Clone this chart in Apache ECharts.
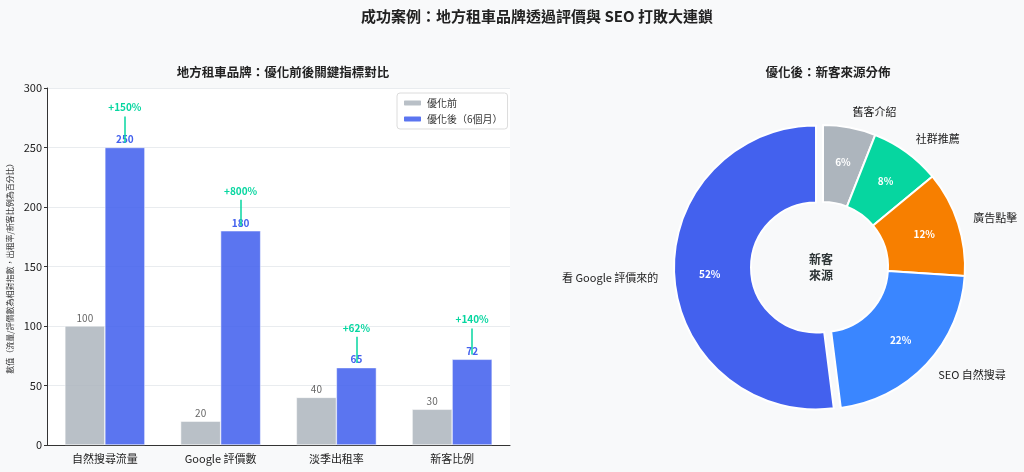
<!DOCTYPE html>
<html><head><meta charset="utf-8">
<script src="https://cdn.jsdelivr.net/npm/echarts@6/dist/echarts.min.js"></script>
<style>html,body{margin:0;padding:0;background:#f8f9fa}#c{width:1024px;height:472px}</style>
</head><body><div id="c"></div>
<script>
const categories = ['自然搜尋流量', 'Google 評價數', '淡季出租率', '新客比例'];
const beforeValues = [100, 20, 40, 30];
const afterValues = [250, 180, 65, 72];
const growthLabels = ['+150%', '+800%', '+62%', '+140%'];
const yTicks = [0, 50, 100, 150, 200, 250, 300];
const pieNames = ['舊客介紹', '社群推薦', '廣告點擊', 'SEO 自然搜尋', '看 Google 評價來的'];
const pieValues = [6, 8, 12, 22, 52];
const pieColors = ['#adb5bd', '#06d6a0', '#f77f00', '#3a86ff', '#4361ee'];
const explodedName = '看 Google 評價來的';

const FONT = '"Noto Sans CJK TC", "Noto Sans", sans-serif';
const chart = echarts.init(document.getElementById('c'), null, {renderer: 'canvas'});

const arrowData = categories.map((c, i) => [
  {coord: [c, afterValues[i] + 26], label: {formatter: growthLabels[i]}},
  {coord: [c, afterValues[i] + 4]}
]);

const pieData = pieNames.map((n, i) => ({
  name: n, value: pieValues[i], selected: n === explodedName,
  itemStyle: {color: pieColors[i]}
}));
const pieDataOuter = pieNames.map((n, i) => ({
  name: n, value: pieValues[i], selected: n === explodedName
}));

chart.setOption({
  backgroundColor: '#f8f9fa',
  textStyle: {fontFamily: FONT},
  title: [
    {text: '成功案例：地方租車品牌透過評價與 SEO 打敗大連鎖', left: 532, top: 4, textAlign: 'center',
     textStyle: {fontFamily: FONT, fontSize: 15, fontWeight: 'bold', color: '#222'}},
    {text: '地方租車品牌：優化前後關鍵指標對比', left: 278, top: 61, textAlign: 'center',
     textStyle: {fontFamily: FONT, fontSize: 12.5, fontWeight: 'bold', color: '#222'}},
    {text: '優化後：新客來源分佈', left: 823, top: 61, textAlign: 'center',
     textStyle: {fontFamily: FONT, fontSize: 12.5, fontWeight: 'bold', color: '#222'}}
  ],
  legend: {
    orient: 'vertical', top: 93, left: 397,
    data: ['優化前', '優化後（6個月）'],
    itemWidth: 19, itemHeight: 7, itemGap: 6,
    padding: [5, 5], backgroundColor: '#fff', borderColor: '#dcdcdc', borderWidth: 1, borderRadius: 3,
    textStyle: {fontFamily: FONT, fontSize: 10, color: '#333'}
  },
  grid: {left: 47, right: 514, top: 88, bottom: 27, show: true, backgroundColor: '#ffffff', borderWidth: 0},
  xAxis: {
    type: 'category', data: categories,
    axisLine: {lineStyle: {color: '#333', width: 1}},
    axisTick: {show: false},
    axisLabel: {fontFamily: FONT, fontSize: 11, color: '#222', margin: 8}
  },
  yAxis: {
    type: 'value', min: yTicks[0], max: yTicks[yTicks.length - 1], interval: 50,
    name: '數值（流量/評價數為相對指數，出租率/新客比例為百分比）',
    nameLocation: 'middle', nameGap: 33, nameRotate: 90,
    nameTextStyle: {fontFamily: FONT, fontSize: 8, color: '#333'},
    axisLine: {show: true, lineStyle: {color: '#333', width: 1}},
    axisTick: {show: true, length: 3, lineStyle: {color: '#333'}},
    axisLabel: {fontFamily: FONT, fontSize: 11, color: '#222', margin: 5},
    splitLine: {lineStyle: {color: '#e9ecef', width: 1}}
  },
  series: [
    {
      name: '優化前', type: 'bar', data: beforeValues, barWidth: 40, barGap: '0%',
      itemStyle: {color: 'rgba(173,181,189,0.85)', borderColor: '#fff', borderWidth: 0.5},
      label: {show: true, position: 'top', distance: 3, fontFamily: FONT, fontSize: 10, color: '#666'}
    },
    {
      name: '優化後（6個月）', type: 'bar', data: afterValues, barWidth: 40,
      itemStyle: {color: 'rgba(67,97,238,0.87)', borderColor: '#fff', borderWidth: 0.5},
      label: {show: true, position: 'top', distance: 3, fontFamily: FONT, fontSize: 10, fontWeight: 'bold', color: '#4361ee'},
      markLine: {
        silent: true, symbol: ['none', 'arrow'], symbolSize: [0, 8],
        lineStyle: {color: '#06d6a0', width: 1.5, type: 'solid'},
        label: {show: true, position: 'start', distance: 4, fontFamily: FONT, fontSize: 10, fontWeight: 'bold', color: '#06d6a0'},
        data: arrowData, z: 5
      },
      z: 3
    },
    {
      name: 'pie', type: 'pie', center: [823, 267], radius: [65, 142],
      startAngle: 90, clockwise: true, avoidLabelOverlap: false,
      selectedMode: 'single', selectedOffset: 7, silent: true,
      itemStyle: {borderColor: '#ffffff', borderWidth: 2},
      label: {show: true, position: 'inside', formatter: '{c}%', fontFamily: FONT, fontSize: 10, fontWeight: 'bold', color: '#fff'},
      labelLine: {show: false},
      emphasis: {disabled: true},
      data: pieData
    },
    {
      name: 'pieLabels', type: 'pie', center: [823, 267], radius: [65, 142],
      startAngle: 90, clockwise: true, avoidLabelOverlap: false,
      selectedMode: 'single', selectedOffset: 7, silent: true,
      itemStyle: {color: 'rgba(0,0,0,0)'},
      label: {show: true, position: 'outside', formatter: '{b}', fontFamily: FONT, fontSize: 11, color: '#222', distanceToLabelLine: 0},
      labelLine: {show: false, length: 16, length2: 0},
      emphasis: {disabled: true},
      data: pieDataOuter, z: 1
    }
  ],
  graphic: [
    {type: 'text', left: 823 - 14, top: 267 - 16,
     style: {text: '新客\n來源', font: 'bold 12px ' + FONT, fill: '#2d3436', textAlign: 'center', lineHeight: 16, x: 14}}
  ]
});
</script></body></html>
